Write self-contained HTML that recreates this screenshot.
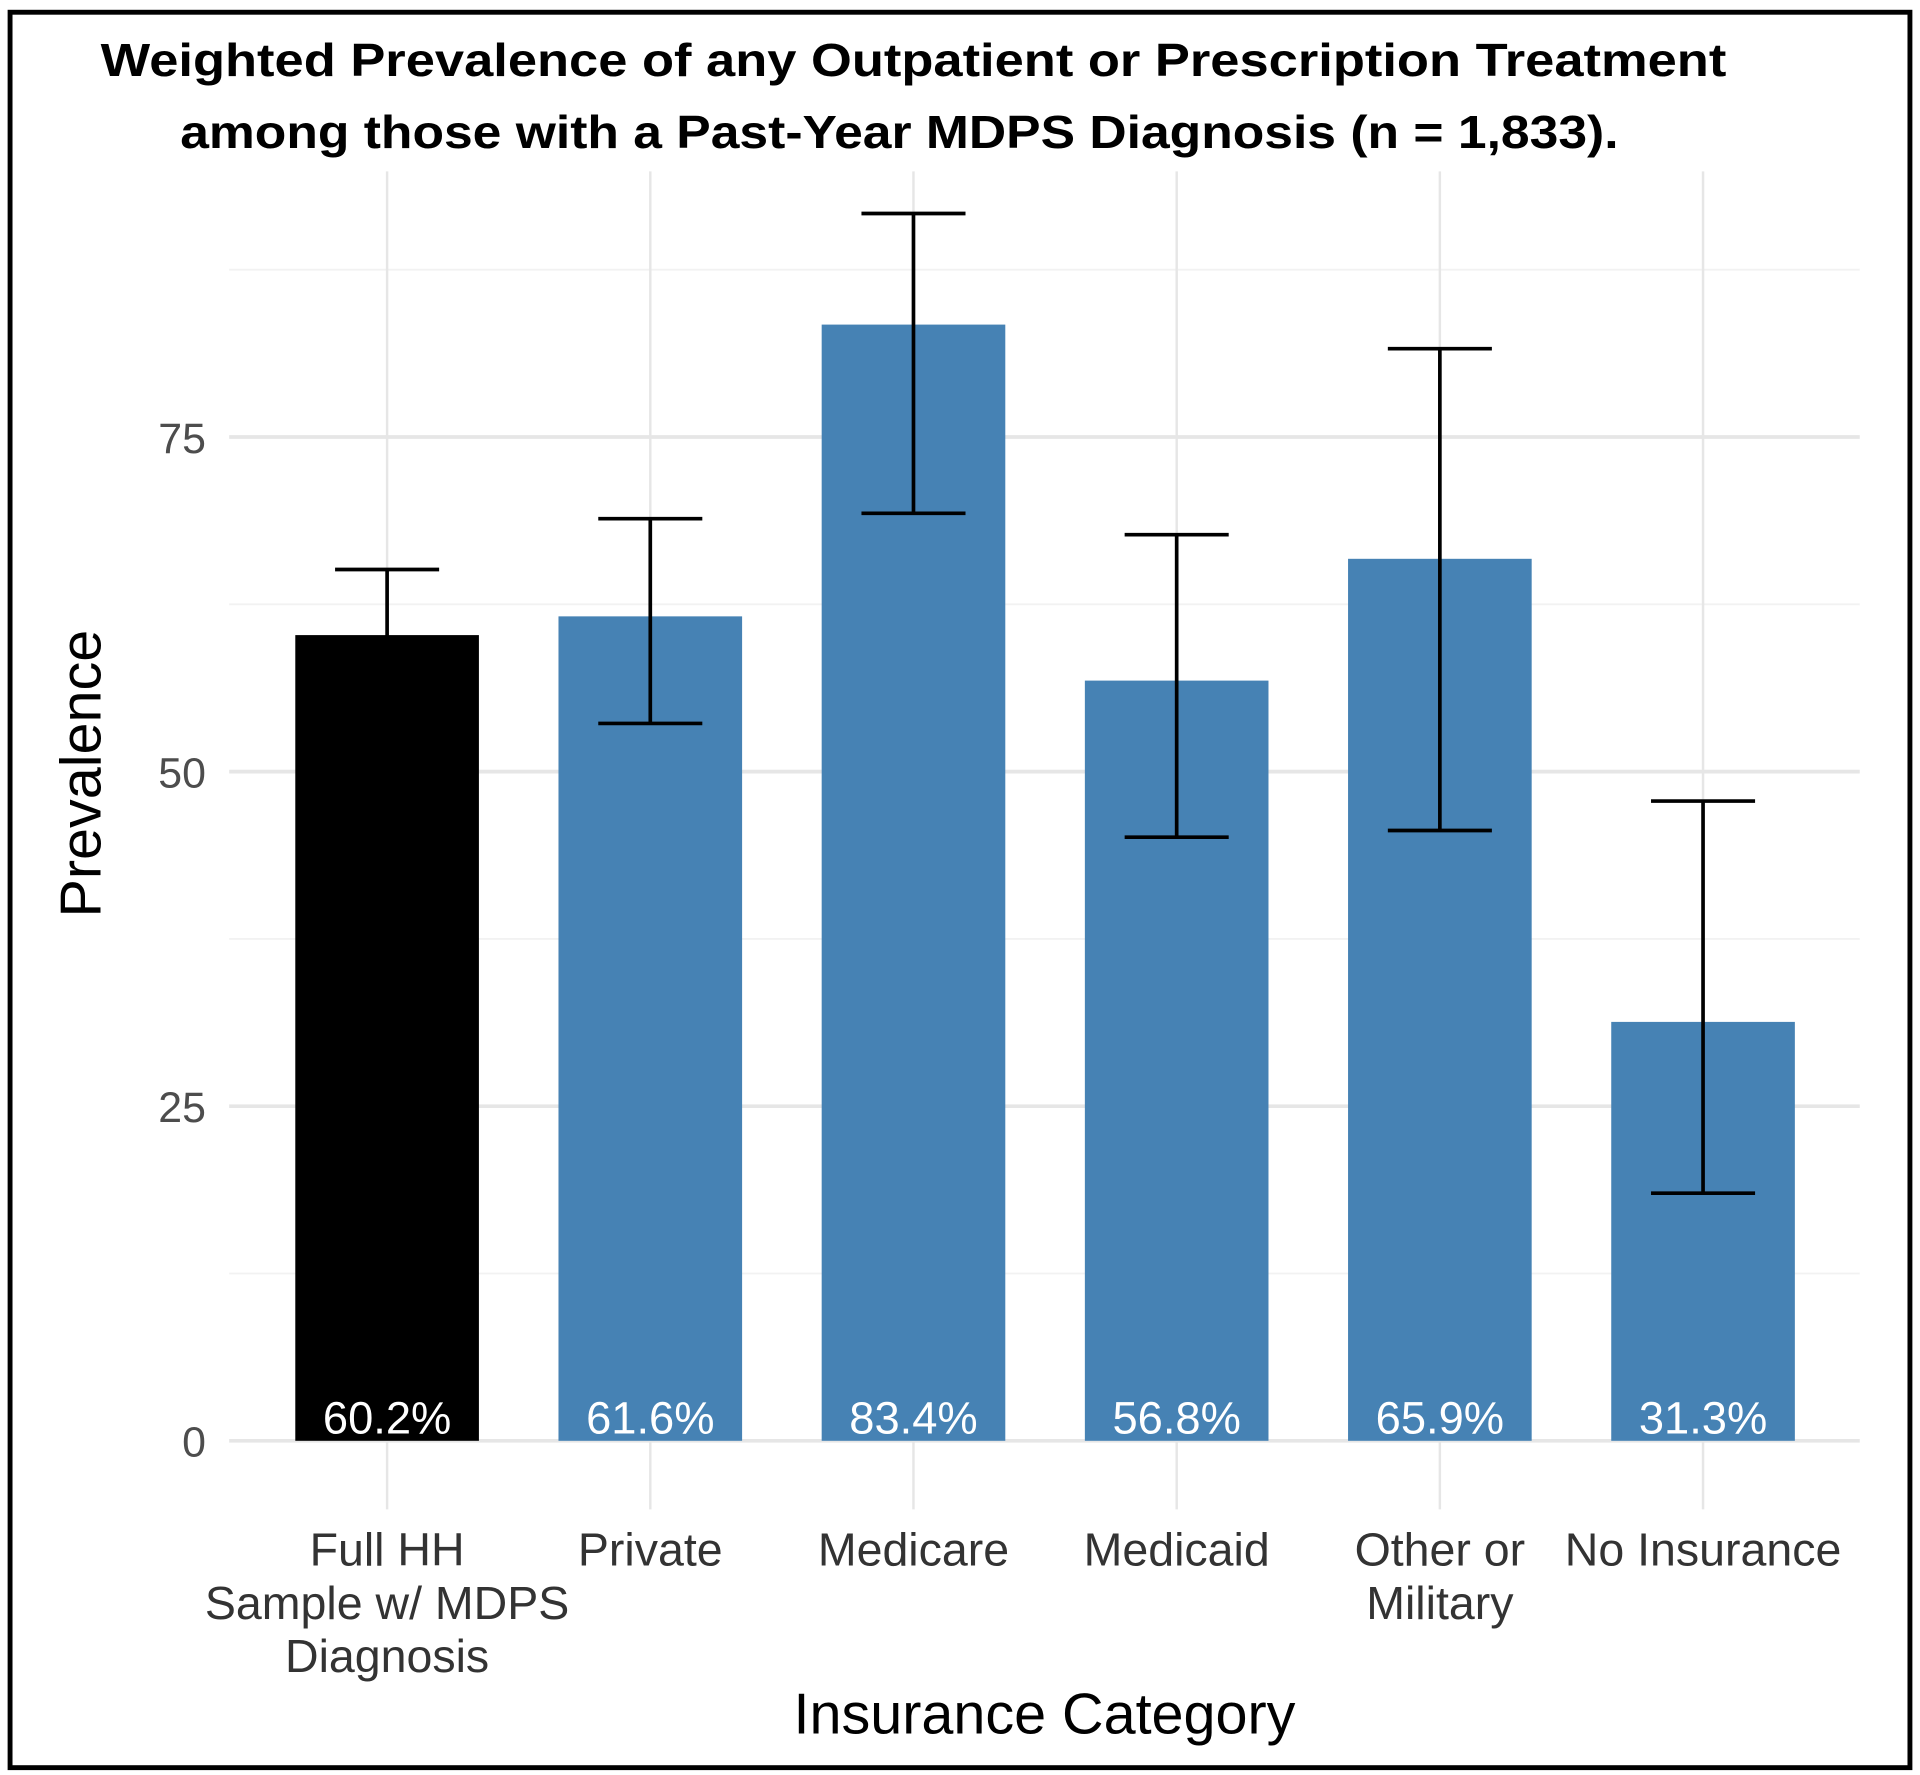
<!DOCTYPE html>
<html><head><meta charset="utf-8"><style>
html,body{margin:0;padding:0;background:#fff;}
svg{display:block;}
</style></head><body>
<svg id="chart" width="1920" height="1775" viewBox="0 0 1568 1450" xmlns="http://www.w3.org/2000/svg" font-family="'Liberation Sans', sans-serif">
<rect x="0" y="0" width="1568" height="1450" fill="#fff"/>
<rect x="8" y="10" width="1552" height="1434" fill="none" stroke="#000" stroke-width="4"/>
<g font-weight="bold" font-size="38" fill="#000">
<text x="82" y="62" textLength="1328" lengthAdjust="spacingAndGlyphs">Weighted Prevalence of any Outpatient or Prescription Treatment</text>
<text x="147" y="121" textLength="1175" lengthAdjust="spacingAndGlyphs">among those with a Past-Year MDPS Diagnosis (n = 1,833).</text>
</g>
<g id="grid"></g>
<g id="bars"></g>
<g id="errs"></g>
<g id="labels"></g>
<text transform="translate(82,632) rotate(-90)" text-anchor="middle" font-size="47" fill="#000">Prevalence</text>
<text x="853" y="1416" text-anchor="middle" font-size="47" fill="#000">Insurance Category</text>
</svg>
<script>
const categories = [["Full HH","Sample w/ MDPS","Diagnosis"],["Private"],["Medicare"],["Medicaid"],["Other or","Military"],["No Insurance"]];
const values = [60.2, 61.6, 83.4, 56.8, 65.9, 31.3];
const lower = [55.3, 53.6, 69.3, 45.1, 45.6, 18.5];
const upper = [65.1, 68.9, 91.7, 67.7, 81.6, 47.8];
const valueLabels = ["60.2%","61.6%","83.4%","56.8%","65.9%","31.3%"];
const yTicks = [0, 25, 50, 75];
const yMinor = [12.5, 37.5, 62.5, 87.5];
const barColors = ["#000000","#4682B4","#4682B4","#4682B4","#4682B4","#4682B4"];

const NS = "http://www.w3.org/2000/svg";
const plotL = 187, plotR = 1519, plotT = 140, plotB = 1233;
const y = v => 1177 - v * (1177 - 357) / 75;
const x = i => 316 + i * 215;
const bw = 150, cap = 85;
function mk(tag, attrs, parent){const e=document.createElementNS(NS,tag);for(const k in attrs)e.setAttribute(k,attrs[k]);parent.appendChild(e);return e;}
const grid=document.getElementById('grid'), bars=document.getElementById('bars'), errs=document.getElementById('errs'), labels=document.getElementById('labels');
yMinor.forEach(v=>{const l=mk('line',{x1:plotL,x2:plotR,y1:y(v),y2:y(v),stroke:'#f2f2f2','stroke-width':1.5},grid);

});
yTicks.forEach(v=>{const l=mk('line',{x1:plotL,x2:plotR,y1:y(v),y2:y(v),stroke:'#e6e6e6','stroke-width':3},grid);


const t=mk('text',{x:168,y:y(v)+13,'text-anchor':'end','font-size':35,fill:'#4d4d4d'},labels);t.textContent=v;

});
categories.forEach((c,i)=>{const l=mk('line',{x1:x(i),x2:x(i),y1:plotT,y2:plotB,stroke:'#e6e6e6','stroke-width':2},grid);


const b=mk('rect',{x:x(i)-bw/2,y:y(values[i]),width:bw,height:y(0)-y(values[i]),fill:barColors[i]},bars);


const p=mk('path',{d:`M${x(i)-cap/2},${y(upper[i])}H${x(i)+cap/2}M${x(i)},${y(upper[i])}V${y(lower[i])}M${x(i)-cap/2},${y(lower[i])}H${x(i)+cap/2}`,stroke:'#000','stroke-width':3,fill:'none'},errs);


const vl=mk('text',{x:x(i),y:1171,'text-anchor':'middle','font-size':37,fill:'#fff'},labels);vl.textContent=valueLabels[i];


const tl=mk('text',{x:x(i),y:1279,'text-anchor':'middle','font-size':38,fill:'#333'},labels);


c.forEach((line,j)=>{const ts=mk('tspan',{x:x(i),dy:j?43.5:0},tl);ts.textContent=line;});});
</script>
</body></html>
